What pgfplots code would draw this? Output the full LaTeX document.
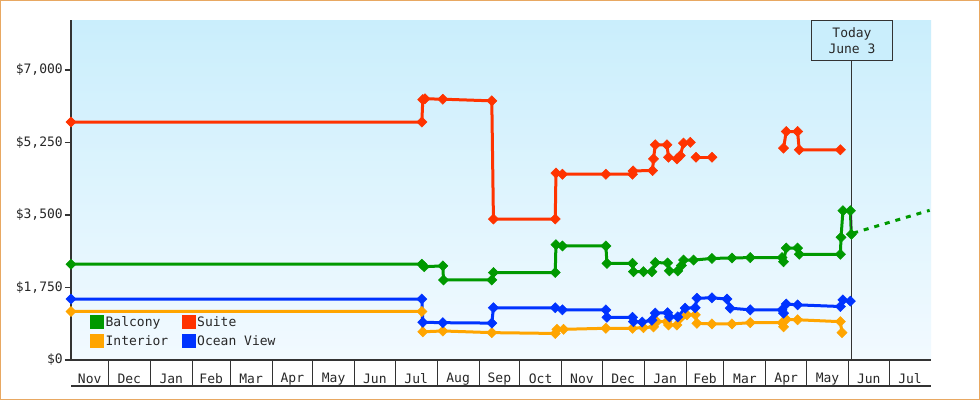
\documentclass[border=0pt]{standalone}
\usepackage{fontspec}
\setmainfont{DejaVu Sans Mono}
\usepackage{pgfplots}
\pgfplotsset{compat=1.18}
\definecolor{cbal}{RGB}{0,153,0}
\definecolor{csui}{RGB}{255,51,0}
\definecolor{cint}{RGB}{255,165,0}
\definecolor{cocv}{RGB}{0,51,255}
\definecolor{bordc}{RGB}{232,168,98}
\definecolor{axc}{RGB}{51,51,51}
\definecolor{txc}{RGB}{40,40,40}
\definecolor{bgtop}{RGB}{202,238,252}
\definecolor{bgbot}{RGB}{242,250,255}
\begin{document}
\fontsize{13bp}{15.5bp}\selectfont
\begin{tikzpicture}[x=1bp,y=1bp]
\useasboundingbox (0,0) rectangle (980,400);
\fill[white] (0,0) rectangle (980,400);
\draw[bordc, line width=1.5bp] (0.75,0.75) rectangle (979.25,399.25);
\begin{axis}[
  at={(71bp,40bp)}, anchor=south west,
  scale only axis, width=860bp, height=340bp,
  xmin=2.4, xmax=638, ymin=0, ymax=8200,
  clip=false,
  axis x line*=bottom, axis y line*=left,
  x axis line style={-, line width=1.2bp, color=axc},
  y axis line style={-, line width=2.5bp, color=axc},
  axis background/.style={top color=bgtop, bottom color=bgbot, draw=none},
  tick align=outside,
  major tick length=6bp,
  minor tick length=26bp,
  xtick={16.2,45.5,76.5,106,135.5,166,196.5,227,257.5,288.5,319,349.5,380,410.5,441.5,471,500.5,531,561.5,592,622.5},
  xticklabels={Nov,Dec,Jan,Feb,Mar,Apr,May,Jun,Jul,Aug,Sep,Oct,Nov,Dec,Jan,Feb,Mar,Apr,May,Jun,Jul},
  major x tick style={draw=none},
  minor xtick={30,61,92,120,151,181,212,242,273,304,334,365,395,426,457,485,516,546,577,607},
  minor x tick style={line width=1bp, color=axc},
  xticklabel style={text=txc, anchor=center, yshift=-13bp},
  ytick={0,1750,3500,5250,7000},
  yticklabels={{\$0},{\$1,750},{\$3,500},{\$5,250},{\$7,000}},
  ytick style={line width=1.5bp, color=axc},
  yticklabel style={text=txc, inner sep=2bp},
  legend image code/.code={\fill[#1] (0bp,-5.5bp) rectangle (11bp,5.5bp);},
  legend style={at={(rel axis cs:0.022,0.133)}, anchor=north west, draw=none, fill=none,
    legend columns=2, row sep=4bp, inner sep=0bp,
    /tikz/every even column/.append style={column sep=12bp},
    nodes={inner sep=1.5bp, text=txc}},
  legend cell align=left,
  every axis plot/.append style={line width=3bp, mark=square*, mark size=3.6bp, mark options={rotate=45, solid, line width=0.5bp}},
]
\addlegendimage{cbal}\addlegendentry{Balcony}
\addlegendimage{csui}\addlegendentry{Suite}
\addlegendimage{cint}\addlegendentry{Interior}
\addlegendimage{cocv}\addlegendentry{Ocean View}

% Balcony
\addplot[cbal, forget plot] coordinates {
(2.4,2310) (261.7,2310) (263.4,2250) (277.2,2270) (277.7,1930) (313.4,1930)
(314.6,2110) (360.3,2110) (360.8,2780) (365.6,2750) (397.7,2750) (398.5,2330)
(417.4,2330) (418.1,2130) (425.5,2130) (431.7,2130) (434.2,2350) (443.3,2340)
(444.6,2150) (450.8,2150) (453.5,2280) (455.1,2410) (462.5,2410) (476.1,2450)
(490.9,2460) (504.4,2470) (527.9,2470) (529.0,2370) (531.0,2700) (539.4,2700)
(540.6,2550) (571.0,2550) (571.5,2960) (572.9,3600) (578.4,3600) (579.1,3030)};
\addplot[cbal, forget plot, mark=none, dash pattern=on 5bp off 6bp] coordinates {
(580.5,3060) (637,3610)};

% Suite
\addplot[csui, forget plot] coordinates {
(2.4,5740) (261.7,5740) (262.4,6280) (264.0,6300) (277.2,6290) (313.4,6250)
(314.6,3400) (360.3,3400) (360.8,4510) (365.6,4480) (397.7,4480) (417.4,4480)
(417.8,4560) (432.2,4570) (432.9,4850) (434.2,5190) (442.8,5190) (444.0,4890)
(450.2,4850) (452.7,4930) (455.1,5230) (460.1,5250)};
\addplot[csui, forget plot] coordinates {(464.3,4890) (476.1,4890)};
\addplot[csui, forget plot] coordinates {
(529.0,5110) (531.0,5510) (539.4,5510) (540.6,5070) (571.0,5070)};

% Interior
\addplot[cint, forget plot] coordinates {
(2.4,1170) (261.7,1170) (262.4,680) (277.2,700) (313.4,660) (360.3,640)
(361.5,740) (366.4,740) (397.7,765) (417.4,765) (425.5,780) (432.9,800) (435.4,925)
(442.8,925) (444.0,845) (450.2,845) (457.6,1090) (463.8,1090) (465.0,885)
(476.1,870) (490.9,870) (504.4,900) (527.9,900) (529.0,800) (531.0,980)
(539.4,970) (571.0,925) (572.2,660)};

% Ocean View
\addplot[cocv, forget plot] coordinates {
(2.4,1470) (261.7,1470) (262.4,910) (277.2,900) (313.4,890) (314.6,1260)
(360.3,1260) (365.6,1210) (397.7,1210) (398.5,1030) (417.4,1030) (418.1,925)
(424.5,915) (431.7,960) (434.2,1130) (443.3,1140) (444.7,1040) (450.8,1040) (456.3,1250)
(463.7,1260) (465.0,1490) (476.1,1500) (487.2,1470) (489.6,1250) (504.4,1210)
(527.9,1210) (529.0,1130) (531.0,1350) (539.4,1330) (571.0,1290) (572.9,1450)
(578.4,1420)};

\draw[axc, line width=1.2bp] ([yshift=-26bp]rel axis cs:0,0) -- ([yshift=-26bp]rel axis cs:1,0);
\node[anchor=north, draw=axc, fill=bgtop, line width=1bp, align=center, text=txc,
  minimum width=80bp, minimum height=40bp, inner sep=2bp] (today) at (axis cs:579.6,8200) {Today\\June 3};
\draw[axc, line width=1bp] (axis cs:579.6,0) -- (today.south);
\end{axis}
\end{tikzpicture}
\end{document}
